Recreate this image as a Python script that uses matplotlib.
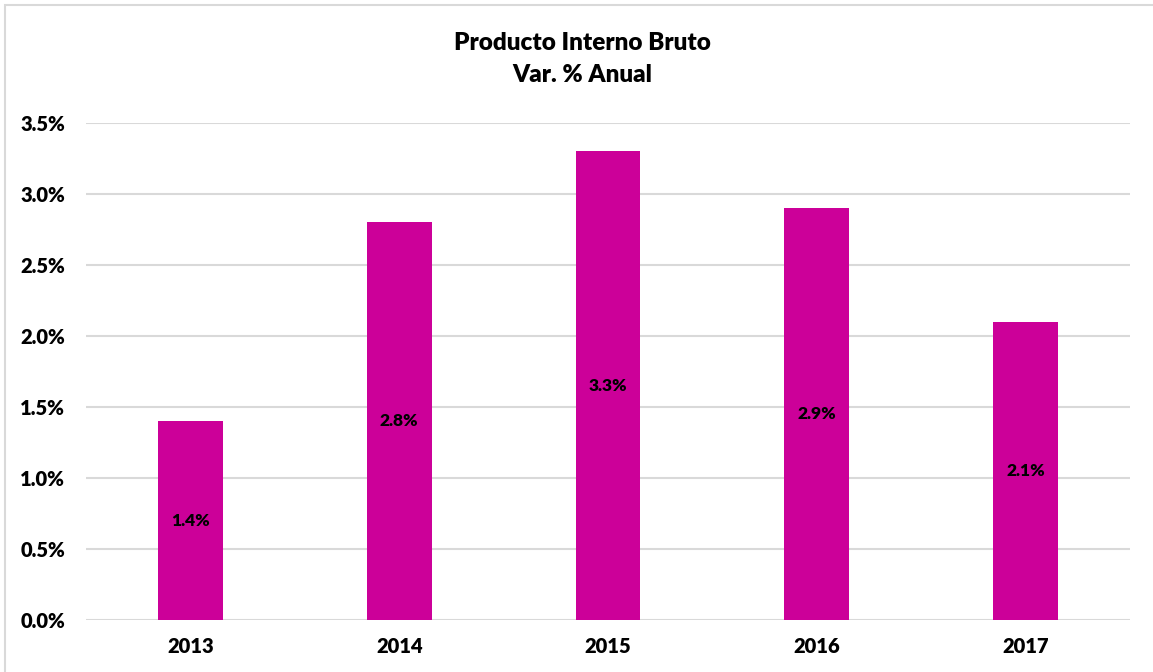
import numpy as np
import matplotlib.pyplot as plt
from matplotlib.patches import Rectangle

# Datos del PIB (var. % anual)
anios = ["2013", "2014", "2015", "2016", "2017"]
variacion = [1.4, 2.8, 3.3, 2.9, 2.1]
etiquetas_y = [0.0, 0.5, 1.0, 1.5, 2.0, 2.5, 3.0, 3.5]

plt.rcParams['font.family'] = ['Lato', 'DejaVu Sans']
peso = 'heavy'

fig = plt.figure(figsize=(11.53, 6.72), dpi=100)
ax = fig.add_axes([86 / 1153, 52 / 672, 1044 / 1153, 497 / 672])

x = np.arange(len(anios))
barras = ax.bar(x, variacion, width=0.31, color='#CC0099', zorder=3)

# Etiquetas centradas dentro de cada barra
for b, v in zip(barras, variacion):
    ax.text(b.get_x() + b.get_width() / 2, v / 2, f"{v:.1f}%",
            ha='center', va='center', fontsize=12.5, fontweight=peso, color='black')

ax.set_xlim(-0.5, len(anios) - 0.5)
ax.set_ylim(0, 3.5)
ax.set_xticks(x)
ax.set_xticklabels(anios, fontsize=14.5, fontweight=peso)
ax.set_yticks(etiquetas_y)
ax.set_yticklabels([f"{v:.1f}%" for v in etiquetas_y], fontsize=14.5, fontweight=peso)
ax.tick_params(length=0)
ax.tick_params(axis='x', pad=12)
ax.tick_params(axis='y', pad=15)
ax.grid(axis='y', color='#D9D9D9', linewidth=1.5, zorder=0)
ax.set_axisbelow(True)
for s in ax.spines.values():
    s.set_visible(False)

fig.text(582 / 1153, 1 - 43 / 672, "Producto Interno Bruto", ha='center', va='center',
         fontsize=17.5, fontweight=peso)
fig.text(582 / 1153, 1 - 75 / 672, "Var. % Anual", ha='center', va='center',
         fontsize=17.5, fontweight=peso)

# Borde del gráfico
fig.patches.append(Rectangle((5 / 1153, -0.1), 1.2, 1 - 5 / 672 + 0.1,
                             transform=fig.transFigure, fill=False,
                             edgecolor='#D9D9D9', linewidth=1.5))

fig.savefig("out.png", dpi=100)
